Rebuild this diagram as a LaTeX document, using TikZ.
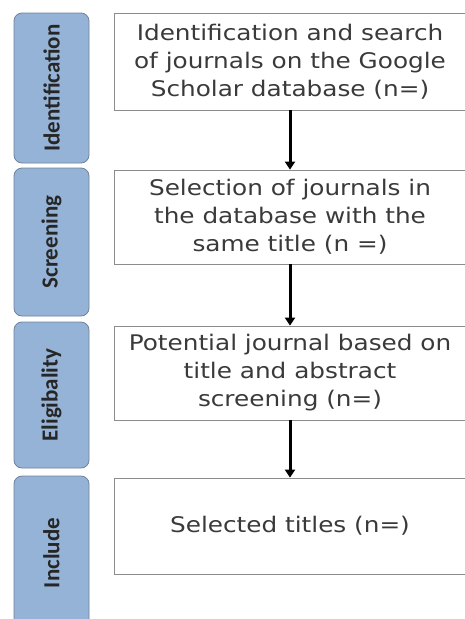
\documentclass[tikz,border=0pt]{standalone}
\usepackage{fontspec}
\setmainfont{DejaVu Sans}
\newfontfamily\boxfont[FakeStretch=1.15]{DejaVu Sans}
\newfontfamily\stagefont{Carlito}
\usetikzlibrary{arrows.meta}
\definecolor{stageblue}{HTML}{95B3D7}
\definecolor{stageline}{HTML}{6F8299}
\definecolor{boxline}{HTML}{8C8C8C}
\definecolor{boxtext}{HTML}{3A3A3A}
\tikzset{
  stage/.style = {draw=stageline, line width=0.8pt, fill=stageblue, rounded corners=8pt,
                  rotate=90, minimum height=75pt, inner sep=0pt,
                  font=\stagefont\bfseries\fontsize{23}{23}\selectfont, text=black!85},
  stepbox/.style = {draw=boxline, line width=0.8pt, fill=white, minimum width=352pt,
                    inner sep=0pt, align=center, text=boxtext,
                    font=\boxfont\fontsize{21.5}{28}\selectfont},
  flow/.style = {line width=3pt, -{Triangle[length=8pt,width=10pt]}}
}
\begin{document}
\begin{tikzpicture}[x=1pt,y=-1pt]
	\useasboundingbox (0,0) rectangle (465,619);
	% stages on the left
	\node[stage, minimum width=150pt] (ident) at (51.5,88) {Identification};
	\node[stage, minimum width=148pt] (screen) at (51.5,242) {Screening};
	\node[stage, minimum width=146pt] (elig) at (51.5,395) {Eligibality};
	\node[stage, minimum width=154pt] (incl) at (51.5,553) {Include};
	% steps
	\node[stepbox, minimum height=97pt] (search) at (290,61.5)
		{Identification and search\\of journals on the Google\\Scholar database (n=)};
	\node[stepbox, minimum height=94pt] (select) at (290,217)
		{Selection of journals in\\the database with the\\same title (n =)};
	\node[stepbox, minimum height=94pt] (potent) at (290,373)
		{Potential journal based on\\title and abstract\\screening (n=)};
	\node[stepbox, minimum height=96pt] (titles) at (290,526)
		{Selected titles (n=)};
	% arrows
	\draw[flow] (search) -- (select);
	\draw[flow] (select) -- (potent);
	\draw[flow] (potent) -- (titles);
\end{tikzpicture}
\end{document}
